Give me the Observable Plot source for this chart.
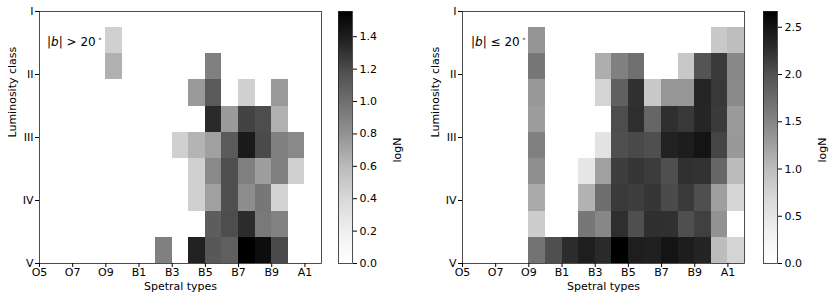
<!DOCTYPE html>
<html><head><meta charset="utf-8">
<script src="https://cdn.jsdelivr.net/npm/d3@7"></script>
<script src="https://cdn.jsdelivr.net/npm/@observablehq/plot@0.6"></script>
<style>
html,body{margin:0;padding:0;background:#fff;}
#fig{position:relative;width:830px;height:302px;overflow:hidden;font-family:"DejaVu Sans",sans-serif;}
#fig svg{position:absolute;top:0;}
.note{position:absolute;font-size:12px;font-family:"DejaVu Sans",sans-serif;white-space:nowrap;color:#000;line-height:14px;}
.note sup{font-size:7px;vertical-align:5px;margin-left:2px;}
</style></head><body><div id="fig"></div>
<script>
// Spectral type axis (one unit per subtype) and tick labels
const spectralTypes = ["O5","O6","O7","O8","O9","B0","B1","B2","B3","B4","B5","B6","B7","B8","B9","A0","A1"];
const tickTypes = ["O5","O7","O9","B1","B3","B5","B7","B9","A1"];
const luminosityClasses = ["I","II","III","IV","V"];
// Columns that hold cells
const cellTypes = ["O9","B0","B1","B2","B3","B4","B5","B6","B7","B8","B9","A0","A1"];
// Luminosity-class bin edges (I = 1 ... V = 5), top to bottom
const rowEdges = [1.25, 1.6667, 2.0833, 2.5, 2.9167, 3.3333, 3.75, 4.1667, 4.5833, 5];

// log N, |b| > 20 deg (rows top -> bottom, columns = cellTypes)
const highLatLogN = [
  [0.45, null, null, null, null, null, null, null, null, null, null, null, null],
  [0.65, null, null, null, null, null, 0.90, null, null, null, null, null, null],
  [null, null, null, null, null, 0.76, 1.12, null, 0.45, null, 0.76, null, null],
  [null, null, null, null, null, null, 1.34, 0.76, 1.23, 1.19, 0.65, null, null],
  [null, null, null, null, 0.45, 0.63, 0.73, 1.12, 1.42, 1.20, 0.90, 0.85, null],
  [null, null, null, null, null, 0.45, 0.85, 1.18, 0.90, 0.74, 0.90, 0.45, null],
  [null, null, null, null, null, 0.45, 0.73, 1.18, 0.83, 0.95, 0.43, null, null],
  [null, null, null, null, null, null, 1.10, 1.19, 1.33, 0.94, 0.89, null, null],
  [null, null, null, 0.90, null, 1.38, 1.13, 1.09, 1.556, 1.49, 1.20, null, null]
];
// log N, |b| <= 20 deg
const lowLatLogN = [
  [1.34, null, null, null, null, null, null, null, null, null, null, 0.87, 0.99],
  [1.63, null, null, null, 1.13, 1.54, 1.71, null, null, 0.87, 1.98, 2.18, 1.47],
  [1.31, null, null, null, 0.73, 1.86, 2.25, 0.87, 1.33, 1.33, 2.33, 2.19, 1.45],
  [1.28, null, null, null, null, 2.04, 2.27, 1.80, 2.26, 2.19, 2.33, 2.18, 1.30],
  [1.54, null, null, null, 0.52, 2.02, 2.07, 2.02, 2.36, 2.41, 2.49, 2.10, 1.31],
  [1.41, null, null, 0.48, 1.25, 2.15, 2.21, 2.16, 2.02, 2.25, 2.24, 1.80, 1.02],
  [1.16, null, null, 1.09, 1.72, 2.18, 2.15, 2.21, 2.05, 2.18, 2.02, 1.26, 0.70],
  [0.81, null, null, 1.63, 1.48, 2.27, 2.02, 2.26, 2.25, 2.02, 2.13, 1.37, 0.00],
  [1.67, 2.02, 2.28, 2.40, 2.30, 2.667, 2.40, 2.38, 2.49, 2.41, 2.34, 1.01, 0.73]
];
const highLatMax = 1.556;
const lowLatMax = 2.667;
const highLatTicks = [0, 0.2, 0.4, 0.6, 0.8, 1.0, 1.2, 1.4];
const lowLatTicks = [0, 0.5, 1.0, 1.5, 2.0, 2.5];

// matplotlib "Greys" colormap stops
const greys = ["#ffffff","#f0f0f0","#d9d9d9","#bdbdbd","#969696","#737373","#525252","#252525","#000000"];

const font = {background: "transparent", fontFamily: "DejaVu Sans, sans-serif", fontSize: "11px", color: "#000", overflow: "visible"};

function cells(matrix) {
  const out = [];
  matrix.forEach((row, r) => row.forEach((v, c) => {
    if (v == null) return;
    const i = spectralTypes.indexOf(cellTypes[c]);
    out.push({x1: i, x2: i + 1, y1: rowEdges[r], y2: rowEdges[r + 1], logN: v});
  }));
  return out;
}
function colorScale(vmax) {
  return {type: "linear", domain: greys.map((_, k) => k / (greys.length - 1) * vmax), range: greys, interpolate: "rgb"};
}
function heatmap(matrix, vmax) {
  return Plot.plot({
    width: 330, height: 302, marginLeft: 39, marginRight: 9, marginTop: 11, marginBottom: 39,
    style: font,
    x: {domain: [0, spectralTypes.length]},
    y: {domain: [1, 5], reverse: true},
    color: colorScale(vmax),
    marks: [
      Plot.rect(cells(matrix), {x1: "x1", x2: "x2", y1: "y1", y2: "y2", fill: "logN", shapeRendering: "crispEdges"}),
      Plot.frame({stroke: "#222", strokeWidth: 0.8}),
      Plot.axisX({ticks: tickTypes.map(t => spectralTypes.indexOf(t)), tickFormat: i => spectralTypes[i], tickSize: 4, tickPadding: 1, label: null}),
      Plot.axisY({ticks: [1, 2, 3, 4, 5], tickFormat: v => luminosityClasses[v - 1], tickSize: 4, tickPadding: 2, label: null}),
      Plot.text(["Luminosity class"], {frameAnchor: "left", dx: -27, rotate: -90}),
      Plot.text(["Spetral types"], {frameAnchor: "bottom", dy: 26})
    ]
  });
}
function colorbar(vmax, ticks) {
  const n = 252;
  const strips = d3.range(n).map(k => ({y1: k / n * vmax, y2: (k + 1) / n * vmax, v: (k + 0.5) / n * vmax}));
  return Plot.plot({
    width: 110, height: 302, marginLeft: 38, marginRight: 58, marginTop: 11, marginBottom: 39,
    style: font,
    x: {domain: [0, 1], axis: null},
    y: {domain: [0, vmax]},
    color: colorScale(vmax),
    marks: [
      Plot.rect(strips, {x1: 0, x2: 1, y1: "y1", y2: "y2", fill: "v", shapeRendering: "crispEdges"}),
      Plot.frame({stroke: "#222", strokeWidth: 0.8}),
      Plot.axisY({anchor: "right", ticks, tickFormat: d3.format(".1f"), tickSize: 4, tickPadding: 3, label: null}),
      Plot.text(["logN"], {frameAnchor: "right", dx: 45, rotate: -90})
    ]
  });
}
const fig = document.getElementById("fig");
function place(el, left) { el.style.left = left + "px"; el.style.maxWidth = "none"; fig.appendChild(el); }
place(heatmap(highLatLogN, highLatMax), 0);
place(colorbar(highLatMax, highLatTicks), 300);
place(heatmap(lowLatLogN, lowLatMax), 423);
place(colorbar(lowLatMax, lowLatTicks), 725);
function note(html, left, top) {
  const d = document.createElement("div");
  d.className = "note"; d.innerHTML = html;
  d.style.left = left + "px"; d.style.top = top + "px";
  fig.appendChild(d);
}
note("|<i>b</i>| &gt; 20<sup>∘</sup>", 47, 32);
note("|<i>b</i>| ≤ 20<sup>∘</sup>", 471, 32);
</script></body></html>
